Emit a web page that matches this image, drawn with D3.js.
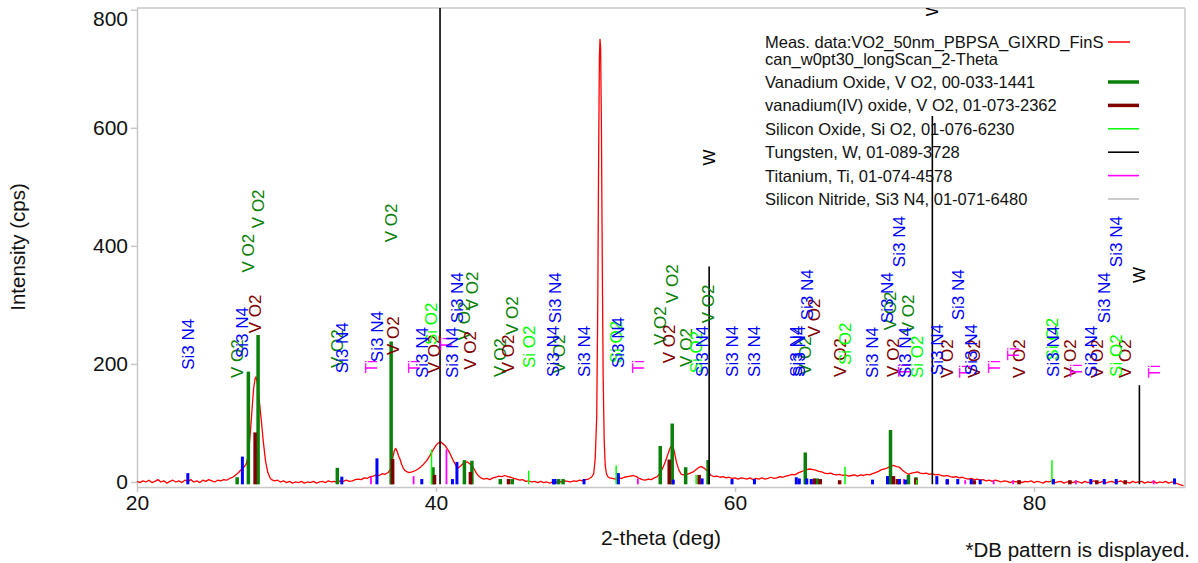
<!DOCTYPE html>
<html>
<head>
<meta charset="utf-8">
<script src="https://cdn.jsdelivr.net/npm/d3@7"></script>
<style>
  body { margin: 0; background: #fff; }
  svg { display: block; font-family: "Liberation Sans", Arial, sans-serif; }
</style>
</head>
<body>
<svg id="chart" width="1198" height="563"></svg>
<script>
// Measured GIXRD scan: [2-theta (deg), intensity (cps)]
const measured = [
  [20.0,1],[20.2,-1],[20.4,2],[20.6,0],[20.8,3],[21.0,-1],[21.2,1],[21.4,4],[21.6,0],[21.8,2],
  [22.0,-2],[22.2,1],[22.4,3],[22.6,0],[22.8,2],[23.0,-1],[23.2,3],[23.4,1],[23.6,4],[23.8,0],
  [24.0,2],[24.2,-1],[24.4,3],[24.6,1],[24.8,4],[25.0,2],[25.2,0],[25.4,3],[25.6,2],[25.8,4],
  [26.0,3],[26.2,6],[26.4,8],[26.6,12],[26.8,16],[27.0,22],[27.15,25],[27.3,30],[27.45,45],[27.6,90],
  [27.7,125],[27.8,158],[27.9,175],[27.96,178],[28.05,168],[28.15,145],[28.3,108],[28.45,68],[28.6,35],[28.75,16],
  [28.9,7],[29.0,4],[29.2,2],[29.4,3],[29.6,0],[29.8,2],[30.0,-1],[30.2,1],[30.4,-2],[30.6,0],
  [30.8,-1],[31.0,1],[31.2,-2],[31.4,0],[31.6,-1],[31.8,1],[32.0,-2],[32.2,0],[32.4,1],[32.6,-1],
  [32.8,2],[33.0,0],[33.2,1],[33.4,-1],[33.6,2],[33.8,1],[34.0,3],[34.2,1],[34.4,2],[34.6,4],
  [34.8,5],[35.0,4],[35.2,7],[35.4,6],[35.6,9],[35.8,10],[36.0,12],[36.2,11],[36.4,14],[36.6,13],
  [36.8,16],[36.95,22],[37.1,40],[37.2,52],[37.3,57],[37.4,52],[37.5,44],[37.6,38],[37.7,30],[37.8,24],
  [37.9,20],[38.0,18],[38.2,16],[38.4,17],[38.6,19],[38.8,22],[39.0,26],[39.2,31],[39.4,37],[39.6,45],
  [39.8,54],[40.0,62],[40.15,66],[40.3,68],[40.45,65],[40.6,62],[40.75,56],[40.9,50],[41.05,42],[41.2,34],
  [41.35,27],[41.5,24],[41.65,27],[41.8,31],[41.95,33],[42.1,34],[42.25,31],[42.4,28],[42.55,22],[42.7,15],
  [42.85,10],[43.0,7],[43.2,5],[43.4,6],[43.6,4],[43.8,7],[44.0,8],[44.2,10],[44.4,9],[44.6,11],
  [44.8,9],[45.0,8],[45.2,6],[45.4,5],[45.6,3],[45.8,4],[46.0,1],[46.2,2],[46.4,0],[46.6,1],
  [46.8,-1],[47.0,1],[47.2,-1],[47.4,0],[47.6,-2],[47.8,0],[48.0,-1],[48.2,1],[48.4,0],[48.6,2],
  [48.8,1],[49.0,0],[49.2,2],[49.4,1],[49.6,3],[49.8,2],[50.0,4],[50.2,5],[50.4,8],[50.55,14],
  [50.65,40],[50.75,110],[50.82,300],[50.88,560],[50.93,720],[50.97,750],[51.01,735],[51.06,620],[51.12,380],[51.18,180],
  [51.25,70],[51.32,28],[51.4,14],[51.5,9],[51.6,7],[51.8,6],[52.0,5],[52.2,7],[52.4,6],[52.6,8],
  [52.8,9],[53.0,10],[53.2,11],[53.4,9],[53.6,6],[53.8,4],[54.0,3],[54.2,5],[54.4,4],[54.6,7],
  [54.8,9],[55.0,15],[55.2,26],[55.35,35],[55.5,46],[55.65,57],[55.78,63],[55.9,56],[56.0,44],[56.1,32],
  [56.25,20],[56.4,13],[56.6,12],[56.8,13],[57.0,15],[57.2,17],[57.4,21],[57.6,25],[57.75,26],[57.9,24],
  [58.05,21],[58.2,17],[58.4,11],[58.6,9],[58.8,10],[59.0,8],[59.2,9],[59.4,7],[59.6,8],[59.8,6],
  [60.0,7],[60.2,5],[60.4,7],[60.6,6],[60.8,5],[61.0,7],[61.2,4],[61.4,6],[61.6,5],[61.8,7],
  [62.0,5],[62.2,6],[62.4,8],[62.6,6],[62.8,7],[63.0,9],[63.2,8],[63.4,10],[63.6,11],[63.8,13],
  [64.0,12],[64.2,15],[64.4,17],[64.6,19],[64.8,21],[65.0,22],[65.2,21],[65.4,20],[65.6,18],[65.8,17],
  [66.0,15],[66.2,14],[66.4,15],[66.6,13],[66.8,12],[67.0,13],[67.2,11],[67.4,12],[67.6,10],[67.8,11],
  [68.0,12],[68.2,10],[68.4,12],[68.6,11],[68.8,13],[69.0,12],[69.2,14],[69.4,16],[69.6,18],[69.8,21],
  [70.0,22],[70.2,24],[70.4,27],[70.6,28],[70.8,26],[71.0,25],[71.2,20],[71.4,16],[71.6,13],[71.8,15],
  [72.0,16],[72.2,17],[72.4,15],[72.6,14],[72.8,15],[73.0,13],[73.2,14],[73.4,12],[73.6,13],[73.8,11],
  [74.0,10],[74.2,11],[74.4,9],[74.6,8],[74.8,9],[75.0,7],[75.2,8],[75.4,6],[75.6,5],[75.8,6],
  [76.0,4],[76.2,5],[76.4,3],[76.6,4],[76.8,2],[77.0,3],[77.2,1],[77.4,3],[77.6,2],[77.8,0],
  [78.0,2],[78.2,1],[78.4,-1],[78.6,1],[78.8,0],[79.0,2],[79.2,-1],[79.4,1],[79.6,0],[79.8,2],
  [80.0,-1],[80.2,1],[80.4,0],[80.6,-2],[80.8,1],[81.0,0],[81.2,2],[81.4,-1],[81.6,0],[81.8,1],
  [82.0,-2],[82.2,0],[82.4,1],[82.6,-1],[82.8,1],[83.0,0],[83.2,-2],[83.4,1],[83.6,-1],[83.8,0],
  [84.0,2],[84.2,0],[84.4,-1],[84.6,1],[84.8,-2],[85.0,0],[85.2,1],[85.4,-1],[85.6,0],[85.8,2],
  [86.0,-1],[86.2,0],[86.4,-2],[86.6,1],[86.8,-1],[87.0,0],[87.2,1],[87.4,-2],[87.6,0],[87.8,-1],
  [88.0,1],[88.2,-2],[88.4,0],[88.6,-1],[88.8,1],[89.0,-2],[89.2,0],[89.4,-1],[89.6,-3],[89.8,-5],
  [90.0,-6]
];

// Reference patterns: [2-theta, stick intensity (cps), label level (cps) or null]
const vo2Peaks = [
  [26.7,8,176],[27.45,187,355],[28.1,249,430],[33.4,24,193],[37.0,238,406],[39.8,25,null],
  [41.9,37,240],[42.4,36,291],[44.3,5,178],[45.1,5,249],[48.2,5,184],[48.5,5,null],
  [55.0,61,232],[55.8,99,303],[56.7,25,195],[58.2,37,269],[64.7,50,181],[65.5,6,null],
  [70.4,88,257],[71.6,12,252],[72.1,8,null]
];
const vo2IVPeaks = [
  [27.9,84,252],[37.1,39,215],[39.9,12,184],[42.3,17,190],[44.85,5,184],[55.6,38,201],
  [57.6,12,null],[65.3,6,245],[65.7,5,null],[67.0,3,178],[70.6,10,178],[70.86,5,null],
  [72.1,6,null],[74.2,3,176],[76.0,3,176],[79.0,3,176],[82.4,3,176],[84.2,3,176],[86.1,3,176]
];
const sio2Peaks = [
  [39.7,55,232],[46.2,19,193],[52.05,28,201],[57.4,12,184],[67.36,26,198],[72.15,4,176],
  [81.2,37,206],[85.5,4,178]
];
const wPeaks = [
  [40.27,2000,null],[58.27,365,536],[73.2,620,789],[87.05,164,337]
];
const tiPeaks = [
  [35.65,9,184],[38.5,10,184],[40.7,55,223],[53.5,6,184],[71.3,5,178],[75.4,3,176],
  [77.3,3,184],[78.6,3,206],[82.8,3,178],[88.0,3,176]
];
const si3n4Peaks = [
  [23.4,15,190],[27.05,43,210],[33.7,9,184],[36.05,40,203],[39.05,5,176],[41.1,5,176],
  [41.4,34,269],[47.85,5,178],[47.96,5,269],[49.9,5,178],[52.2,15,193],[55.87,4,null],
  [57.8,6,178],[59.8,5,178],[61.3,5,178],[64.1,8,178],[64.3,6,178],[64.8,6,274],
  [65.1,5,null],[69.2,4,176],[70.2,10,269],[71.0,5,364],[71.4,4,176],[73.5,10,181],
  [74.2,5,null],[74.9,5,274],[75.8,5,181],[76.4,4,null],[81.3,5,178],[83.8,5,178],
  [84.7,5,269],[85.5,5,364],[89.4,6,null]
];

const yTicks = [0, 200, 400, 600, 800];
const xTicks = [20, 40, 60, 80];

const measLegend = ["Meas. data:VO2_50nm_PBPSA_GIXRD_FinS", "can_w0pt30_longScan_2-Theta"];

// Phase drawing settings
const phases = [
  { peaks: vo2Peaks,   tag: "V O2",   legend: "Vanadium Oxide, V O2, 00-033-1441",       color: "#0a800a", width: 3.5, swatch: "#0a800a", swatchW: 3.5 },
  { peaks: vo2IVPeaks, tag: "V O2",   legend: "vanadium(IV) oxide, V O2, 01-073-2362",   color: "#800000", width: 3.5, swatch: "#800000", swatchW: 3.5 },
  { peaks: sio2Peaks,  tag: "Si O2",  legend: "Silicon Oxide, Si O2, 01-076-6230",       color: "#00ff00", width: 1.5, swatch: "#00ff00", swatchW: 1.5 },
  { peaks: wPeaks,     tag: "W",      legend: "Tungsten, W, 01-089-3728",                color: "#000000", width: 1.6, swatch: "#000000", swatchW: 1.6 },
  { peaks: tiPeaks,    tag: "Ti",     legend: "Titanium, Ti, 01-074-4578",               color: "#ff00ff", width: 1.8, swatch: "#ff00ff", swatchW: 1.6 },
  { peaks: si3n4Peaks, tag: "Si3 N4", legend: "Silicon Nitride, Si3 N4, 01-071-6480",    color: "#0000ff", width: 3.0, swatch: "#c0c0c0", swatchW: 1.6 }
];

const svg = d3.select("#chart");
const plotL = 137, plotR = 1185, plotT = 8, plotB = 487;
const x = d3.scaleLinear().domain([20, 90.1]).range([plotL, plotR]);
const y = d3.scaleLinear().domain([-8.5, 803]).range([plotB, plotT]);
const axisGray = "#c8c8c8";
const stickBase = -4;

svg.append("defs").append("clipPath").attr("id", "plotClip")
  .append("rect").attr("x", plotL).attr("y", plotT).attr("width", plotR - plotL).attr("height", plotB - plotT);

// frame (top and right)
svg.append("line").attr("x1", plotL).attr("x2", plotR).attr("y1", plotT).attr("y2", plotT)
  .attr("stroke", axisGray).attr("stroke-width", 1.5);
svg.append("line").attr("x1", plotR).attr("x2", plotR).attr("y1", plotT).attr("y2", plotB)
  .attr("stroke", axisGray).attr("stroke-width", 1.5);

// axes
const yAxis = svg.append("g").attr("transform", `translate(${plotL},0)`)
  .call(d3.axisLeft(y).tickValues(yTicks).tickSize(6).tickSizeOuter(0).tickPadding(3));
const xAxis = svg.append("g").attr("transform", `translate(0,${plotB})`)
  .call(d3.axisBottom(x).tickValues(xTicks).tickSize(5).tickSizeOuter(0).tickPadding(3));
[yAxis, xAxis].forEach(g => {
  g.select(".domain").attr("stroke", axisGray).attr("stroke-width", 1.5);
  g.selectAll(".tick line").attr("stroke", axisGray).attr("stroke-width", 1.5);
  g.selectAll(".tick text").attr("fill", "#111").style("font-size", "21px")
    .style("font-family", '"Liberation Sans", Arial, sans-serif');
});
yAxis.selectAll(".tick text").filter(d => d === 800).attr("dy", "0.75em");

// axis titles
svg.append("text").attr("transform", "translate(18,247) rotate(-90)")
  .attr("text-anchor", "middle").attr("dy", "0.35em").style("font-size", "20.5px").attr("fill", "#111")
  .text("Intensity (cps)");
svg.append("text").attr("x", 661).attr("y", 545).attr("text-anchor", "middle")
  .style("font-size", "21px").attr("fill", "#111").text("2-theta (deg)");
svg.append("text").attr("x", 1190).attr("y", 557).attr("text-anchor", "end")
  .style("font-size", "20.5px").attr("fill", "#111").text("*DB pattern is displayed.");

const plot = svg.append("g").attr("clip-path", "url(#plotClip)");

// measured pattern
plot.append("path").datum(measured)
  .attr("fill", "none").attr("stroke", "#ff0000").attr("stroke-width", 1.3)
  .attr("stroke-linejoin", "round")
  .attr("d", d3.line().x(d => x(d[0])).y(d => y(d[1])));

// reference sticks
phases.forEach(p => {
  plot.append("g").selectAll("line").data(p.peaks).join("line")
    .attr("x1", d => x(d[0])).attr("x2", d => x(d[0]))
    .attr("y1", y(stickBase)).attr("y2", d => y(d[1]))
    .attr("stroke", p.color).attr("stroke-width", p.width);
});

// peak labels
phases.forEach(p => {
  plot.append("g").selectAll("text").data(p.peaks.filter(d => d[2] !== null)).join("text")
    .attr("transform", d => `translate(${x(d[0])},${y(d[2])}) rotate(-90)`)
    .attr("dy", "0.35em").attr("fill", p.color).style("font-size", "17px")
    .text(p.tag);
});

// legend
const lg = svg.append("g").style("font-size", "16.5px").attr("fill", "#111");
lg.append("text").attr("x", 765).attr("y", 48).text(measLegend[0]);
lg.append("text").attr("x", 765).attr("y", 65).text(measLegend[1]);
lg.append("line").attr("x1", 1108).attr("x2", 1130).attr("y1", 42).attr("y2", 42)
  .attr("stroke", "#ff0000").attr("stroke-width", 1.5);
phases.forEach((p, i) => {
  const cy = 82 + i * 23.4;
  lg.append("text").attr("x", 765).attr("y", cy + 6).text(p.legend);
  lg.append("line").attr("x1", 1108).attr("x2", 1139).attr("y1", cy).attr("y2", cy)
    .attr("stroke", p.swatch).attr("stroke-width", p.swatchW);
});
</script>
</body>
</html>
